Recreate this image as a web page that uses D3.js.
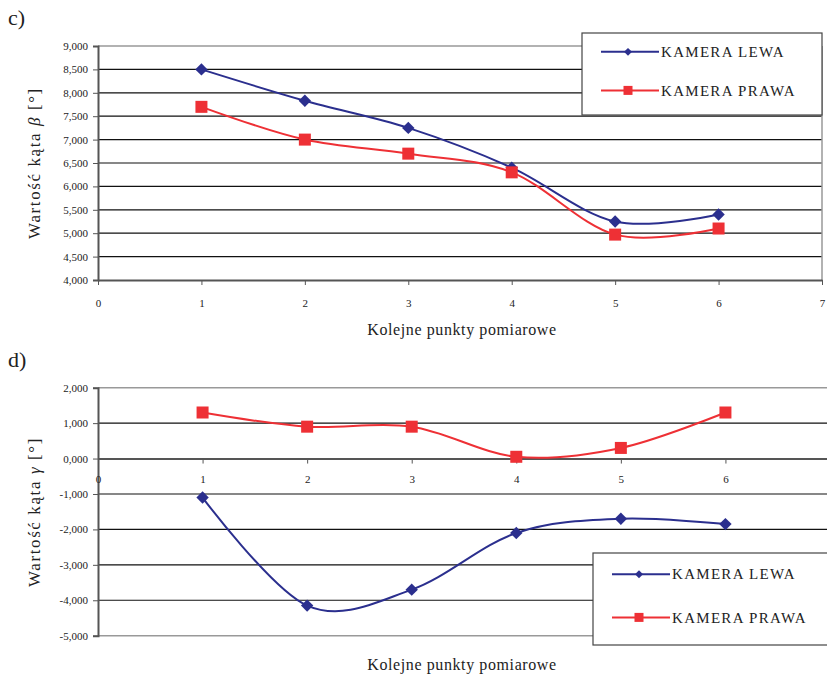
<!DOCTYPE html>
<html>
<head>
<meta charset="utf-8">
<script src="https://cdn.jsdelivr.net/npm/d3@7"></script>
<style>
  body { margin: 0; background: #fff; }
  svg text { font-family: "Liberation Serif", "DejaVu Serif", serif; fill: #222; }
</style>
</head>
<body>
<div id="chart"></div>
<script>
// punkty pomiarowe
const points = [1, 2, 3, 4, 5, 6];
// wykres c) - kat beta
const betaLewa = [8.5, 7.83, 7.25, 6.4, 5.25, 5.4];
const betaPrawa = [7.7, 7.0, 6.7, 6.3, 4.97, 5.1];
const betaTicks = [4, 4.5, 5, 5.5, 6, 6.5, 7, 7.5, 8, 8.5, 9];
// wykres d) - kat gamma
const gammaLewa = [-1.1, -4.15, -3.7, -2.1, -1.7, -1.85];
const gammaPrawa = [1.3, 0.9, 0.9, 0.05, 0.3, 1.3];
const gammaTicks = [-5, -4, -3, -2, -1, 0, 1, 2];
const xTicksTop = [0, 1, 2, 3, 4, 5, 6, 7];
const xTicksBottom = [0, 1, 2, 3, 4, 5, 6];
const seriesNames = ["KAMERA LEWA", "KAMERA PRAWA"];

const blue = "#2b2f8e", red = "#ee3035";
// polish decimal comma, plain hyphen for minus
const fmt = d => (d < 0 ? "-" : "") + Math.abs(d).toFixed(3).replace(".", ",");

const svg = d3.select("#chart").append("svg")
  .attr("width", 827).attr("height", 676);

function marker(g, type, x, y, s) {
  if (type === "diamond") {
    g.append("path")
      .attr("d", d3.symbol(d3.symbolDiamond2, s * s * 0.5)())
      .attr("transform", `translate(${x},${y})`)
      .attr("fill", blue);
  } else {
    g.append("rect").attr("x", x - s / 2).attr("y", y - s / 2)
      .attr("width", s).attr("height", s).attr("fill", red);
  }
}

function drawPanel(opt) {
  const g = svg.append("g");
  const x = d3.scaleLinear().domain([0, 7]).range([opt.left, opt.right]);
  const y = d3.scaleLinear().domain(opt.yDomain).range([opt.bottom, opt.top]);

  // gridlines
  g.append("g").selectAll("line")
    .data(opt.yTicks.filter(t => t !== opt.yDomain[0] && t !== opt.yDomain[1]))
    .enter().append("line")
    .attr("x1", opt.left).attr("x2", opt.right)
    .attr("y1", d => y(d)).attr("y2", d => y(d))
    .attr("stroke", "#111").attr("stroke-width", 1.2);

  // plot border (top / right / bottom)
  g.append("line").attr("x1", opt.left).attr("x2", opt.right)
    .attr("y1", opt.top).attr("y2", opt.top).attr("stroke", "#999").attr("stroke-width", 1.5);
  g.append("line").attr("x1", opt.right).attr("x2", opt.right)
    .attr("y1", opt.top).attr("y2", opt.bottom).attr("stroke", "#999").attr("stroke-width", 1.5);
  if (opt.bottomBorder) {
    g.append("line").attr("x1", opt.left).attr("x2", opt.right)
      .attr("y1", opt.bottom).attr("y2", opt.bottom).attr("stroke", "#999").attr("stroke-width", 1.5);
  }

  // y axis
  const ya = g.append("g").attr("transform", `translate(${opt.left},0)`)
    .call(d3.axisLeft(y).tickValues(opt.yTicks).tickFormat(fmt).tickSize(5).tickPadding(5));
  ya.select(".domain").attr("stroke", "#555").attr("stroke-width", 2);
  ya.selectAll(".tick line").attr("stroke", "#555");
  ya.selectAll("text").attr("font-size", 11).attr("font-family", null).attr("fill", "#222");

  // x axis
  const xa = g.append("g").attr("transform", `translate(0,${y(opt.xAt)})`)
    .call(d3.axisBottom(x).tickValues(opt.xTicks).tickFormat(d3.format("d")).tickSize(5).tickSizeOuter(0).tickPadding(opt.xPad));
  xa.select(".domain").attr("stroke", "#555").attr("stroke-width", 2);
  xa.selectAll(".tick line").attr("stroke", "#555");
  xa.selectAll("text").attr("font-size", 11).attr("font-family", null).attr("fill", "#222");

  // series
  const line = d3.line().x((d, i) => x(points[i])).y(d => y(d)).curve(d3.curveCatmullRom.alpha(0));
  [[opt.lewa, blue, "diamond"], [opt.prawa, red, "square"]].forEach(([vals, col, type]) => {
    g.append("path").datum(vals).attr("d", line)
      .attr("fill", "none").attr("stroke", col).attr("stroke-width", 2);
    vals.forEach((v, i) => marker(g, type, x(points[i]), y(v), type === "diamond" ? 14 : 12));
  });

  // legend
  const lg = g.append("g");
  lg.append("rect").attr("x", opt.lx).attr("y", opt.ly).attr("width", opt.lw).attr("height", opt.lh)
    .attr("fill", "#fff").attr("stroke", "#444").attr("stroke-width", 1.2);
  seriesNames.forEach((name, i) => {
    const cy = opt.ly + opt.lh * (i === 0 ? 0.23 : 0.7);
    const col = i === 0 ? blue : red;
    lg.append("line").attr("x1", opt.lx + 19).attr("x2", opt.lx + 77)
      .attr("y1", cy).attr("y2", cy).attr("stroke", col).attr("stroke-width", 2);
    marker(lg, i === 0 ? "diamond" : "square", opt.lx + 46, cy, 9);
    lg.append("text").attr("x", opt.lx + 79).attr("y", cy).attr("dy", "0.35em")
      .attr("font-size", 15).attr("letter-spacing", 1.3).text(name);
  });

  // titles
  g.append("text").attr("x", opt.xTitleX).attr("y", opt.xTitleY).attr("text-anchor", "middle")
    .attr("font-size", 16).attr("letter-spacing", 0.6).text("Kolejne punkty pomiarowe");
  const yt = g.append("text").attr("transform", `translate(40,${opt.yTitleY}) rotate(-90)`)
    .attr("text-anchor", "middle").attr("font-size", 17).attr("letter-spacing", 1.6);
  yt.append("tspan").text("Wartość kąta  ");
  yt.append("tspan").attr("font-style", "italic").text(opt.symbol);
  yt.append("tspan").text(" [°]");

  g.append("text").attr("x", 8).attr("y", opt.labelY).attr("font-size", 22).text(opt.label);
}

drawPanel({
  left: 98, right: 822, top: 46, bottom: 280,
  yDomain: [4, 9], yTicks: betaTicks, xTicks: xTicksTop, xAt: 4, xPad: 14,
  lewa: betaLewa, prawa: betaPrawa, bottomBorder: false,
  lx: 582, ly: 33, lw: 240, lh: 82,
  xTitleX: 462, xTitleY: 335, yTitleY: 163, symbol: "β", label: "c)", labelY: 25
});

drawPanel({
  left: 98, right: 830, top: 387.7, bottom: 635.7,
  yDomain: [-5, 2], yTicks: gammaTicks, xTicks: xTicksBottom, xAt: 0, xPad: 12,
  lewa: gammaLewa, prawa: gammaPrawa, bottomBorder: true,
  lx: 593, ly: 553, lw: 240, lh: 92,
  xTitleX: 462, xTitleY: 670, yTitleY: 512, symbol: "γ", label: "d)", labelY: 367
});
</script>
</body>
</html>
